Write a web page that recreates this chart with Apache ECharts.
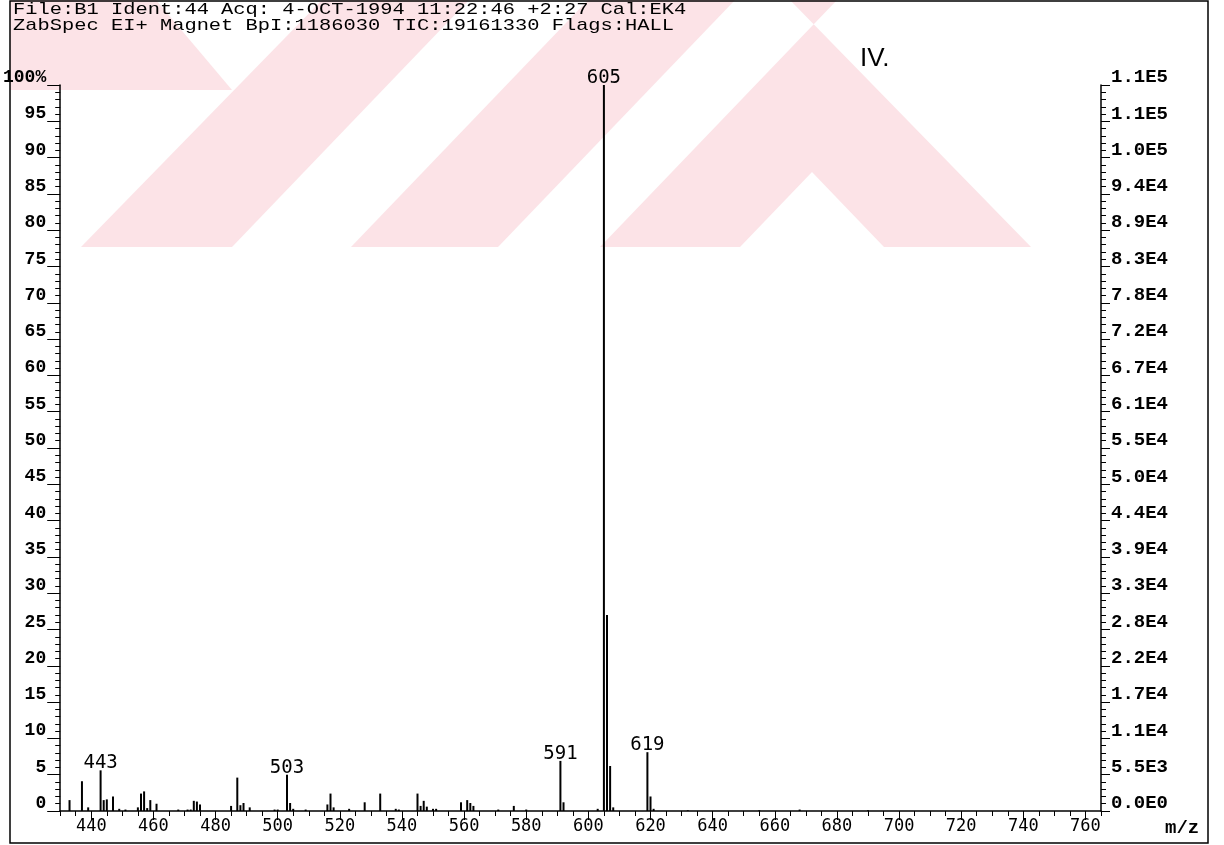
<!DOCTYPE html>
<html>
<head>
<meta charset="utf-8">
<script src="https://cdn.jsdelivr.net/npm/echarts@6/dist/echarts.min.js"></script>
<style>
html, body { margin: 0; padding: 0; background: #fff; }
#chart { width: 1224px; height: 845px; }
</style>
</head>
<body>
<div id="chart"></div>
<script>
// peaks (m/z, relative intensity %)
const mz = [433, 437, 439, 443, 444, 445, 447, 449, 451, 455, 456, 457, 458, 459, 461,
	468, 471, 472, 473, 474, 475, 485, 487, 488, 489, 491, 499, 500, 503, 504, 505, 509,
	516, 517, 518, 523, 528, 533, 538, 539, 545, 546, 547, 548, 550, 551, 559, 561, 562, 563,
	571, 576, 580, 591, 592, 603, 605, 606, 607, 608, 619, 620, 621, 632, 655, 668, 690]
const intensity = [1.5, 4.1, 0.5, 5.6, 1.5, 1.6, 2.0, 0.3, 0.2, 0.5, 2.4, 2.7, 0.4, 1.5, 1.0,
	0.2, 0.2, 0.2, 1.4, 1.3, 0.9, 0.7, 4.6, 0.8, 1.1, 0.5, 0.2, 0.2, 5.0, 1.1, 0.3, 0.2,
	0.9, 2.4, 0.5, 0.3, 1.2, 2.4, 0.3, 0.2, 2.4, 0.7, 1.4, 0.6, 0.3, 0.3, 1.2, 1.5, 1.1, 0.7,
	0.2, 0.7, 0.2, 6.9, 1.2, 0.3, 100, 27, 6.2, 0.5, 8.1, 2.0, 0.3, 0.1, 0.1, 0.2, 0.1]
const labelled = [443, 503, 591, 605, 619]

const xLabels = [440, 460, 480, 500, 520, 540, 560, 580, 600, 620, 640, 660, 680, 700, 720, 740, 760]
const rightLabels = ["0.0E0", "5.5E3", "1.1E4", "1.7E4", "2.2E4", "2.8E4", "3.3E4", "3.9E4", "4.4E4",
	"5.0E4", "5.5E4", "6.1E4", "6.7E4", "7.2E4", "7.8E4", "8.3E4", "8.9E4", "9.4E4", "1.0E5", "1.1E5", "1.1E5"]

const header1 = "File:B1 Ident:44 Acq: 4-OCT-1994 11:22:46 +2:27 Cal:EK4"
const header2 = "ZabSpec EI+ Magnet BpI:1186030 TIC:19161330 Flags:HALL"

let chart = echarts.init(document.getElementById("chart"), null, {renderer: "canvas"})

let black = "#000"
let pink = "#fce3e7"

let data = mz.map(function (m, i) {
	return {
		value: [m, intensity[i]],
		label: {show: labelled.indexOf(m) >= 0}
	}
})

function stripe(points) {
	return {type: "polygon", z: -10, silent: true, shape: {points: points}, style: {fill: pink}}
}

let option = {
	animation: false,
	backgroundColor: "#fff",
	grid: {left: 58, right: 123, top: 85, bottom: 34},
	graphic: [
		// faint watermark left by the scan
		stripe([[10, 0], [156, 0], [232, 90], [10, 90]]),
		stripe([[81, 247], [232, 247], [469, 0], [322, 0]]),
		stripe([[351, 247], [498, 247], [735, 0], [588, 0]]),
		stripe([[600, 247], [837, 0], [790, 0], [1031, 247], [884, 247], [812, 172], [740, 247]]),
		// page frame
		{type: "rect", silent: true, shape: {x: 10, y: 1, width: 1198, height: 842}, style: {fill: null, stroke: black, lineWidth: 1.5}},
		{type: "text", x: 13, y: 1, scaleX: 1.2, silent: true, style: {text: header1, font: "17px 'Liberation Mono'", fill: black}},
		{type: "text", x: 13, y: 17, scaleX: 1.2, silent: true, style: {text: header2, font: "17px 'Liberation Mono'", fill: black}},
		{type: "text", x: 860, y: 46, silent: true, style: {text: "IV.", font: "26px 'Liberation Sans'", fill: black}},
		{type: "text", x: 1165, y: 819, silent: true, style: {text: "m/z", font: "bold 19px 'Liberation Mono'", fill: black}}
	],
	xAxis: [
		{
			type: "value",
			min: 430,
			max: 765,
			interval: 5,
			axisLine: {lineStyle: {color: black, width: 1.5}},
			axisTick: {length: 5, lineStyle: {color: black}},
			splitLine: {show: false},
			axisLabel: {
				margin: 7,
				color: black,
				fontFamily: "DejaVu Sans Mono",
				fontSize: 17,
				formatter: function (v) {
					return xLabels.indexOf(v) >= 0 ? String(v) : ""
				}
			}
		},
		{
			type: "value",
			min: 430,
			max: 765,
			position: "bottom",
			axisLine: {show: false},
			axisTick: {length: 9, customValues: xLabels, lineStyle: {color: black}},
			axisLabel: {show: false},
			splitLine: {show: false}
		}
	],
	yAxis: [
		{
			type: "value",
			min: 0,
			max: 100,
			interval: 5,
			position: "left",
			axisLine: {show: true, lineStyle: {color: black, width: 1.5}},
			axisTick: {length: 13, lineStyle: {color: black}},
			minorTick: {show: true, splitNumber: 5, length: 5, lineStyle: {color: black}},
			splitLine: {show: false},
			axisLabel: {
				margin: 14,
				color: black,
				fontFamily: "Liberation Mono",
				fontWeight: "bold",
				fontSize: 18,
				lineHeight: 15,
				verticalAlign: "bottom",
				formatter: function (v) {
					return v === 100 ? "100%" : String(v)
				}
			}
		},
		{
			type: "value",
			min: 0,
			max: 100,
			interval: 5,
			position: "right",
			axisLine: {show: true, lineStyle: {color: black, width: 1.5}},
			axisTick: {length: 9, lineStyle: {color: black}},
			minorTick: {show: true, splitNumber: 5, length: 5, lineStyle: {color: black}},
			splitLine: {show: false},
			axisLabel: {
				margin: 10,
				color: black,
				fontFamily: "Liberation Mono",
				fontWeight: "bold",
				fontSize: 19,
				lineHeight: 15,
				verticalAlign: "bottom",
				formatter: function (v) {
					return rightLabels[Math.round(v / 5)]
				}
			}
		}
	],
	series: [
		{
			name: "EI+",
			type: "bar",
			xAxisIndex: 0,
			yAxisIndex: 0,
			barWidth: 2,
			silent: true,
			itemStyle: {color: black},
			label: {
				position: "top",
				distance: 0,
				lineHeight: 14,
				color: black,
				fontFamily: "DejaVu Sans Mono",
				fontSize: 19,
				formatter: function (p) {
					return String(p.value[0])
				}
			},
			data: data
		}
	]
}
chart.setOption(option)
</script>
</body>
</html>
